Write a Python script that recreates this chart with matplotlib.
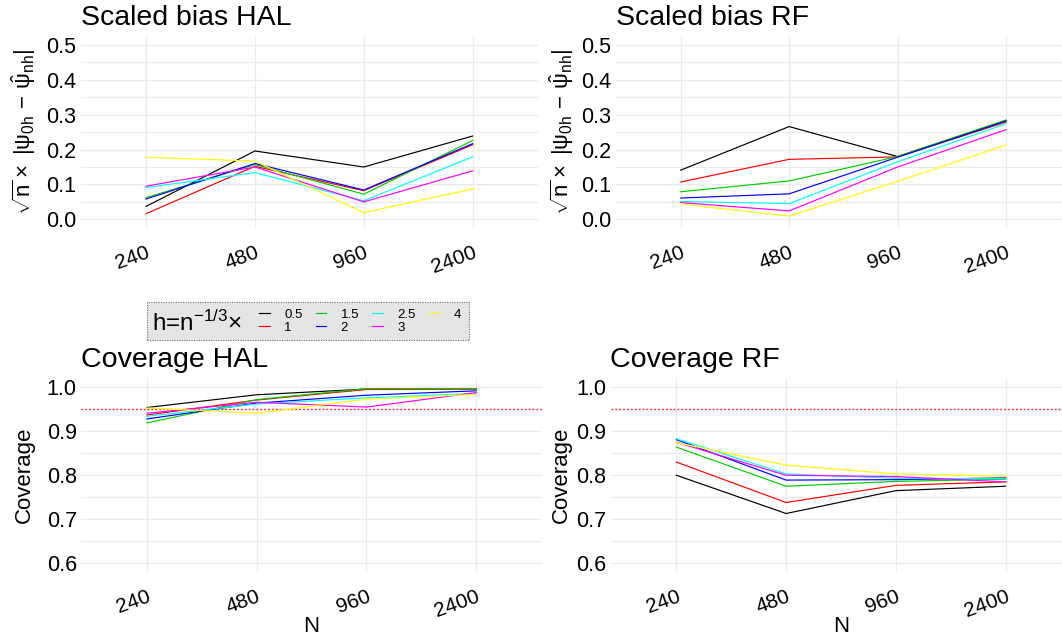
import matplotlib
matplotlib.use("Agg")
import matplotlib.pyplot as plt
from matplotlib.patches import Rectangle
import numpy as np

plt.rcParams['font.family'] = ['Liberation Sans', 'DejaVu Sans']
plt.rcParams['mathtext.fontset'] = 'custom'
plt.rcParams['mathtext.rm'] = 'Liberation Sans'
plt.rcParams['mathtext.it'] = 'Liberation Sans'
plt.rcParams['mathtext.default'] = 'regular'

# ---------------- data ----------------
N_labels = ['240', '480', '960', '2400']
h_labels = ['0.5', '1', '1.5', '2', '2.5', '3', '4']

bias_hal_05 = [0.037, 0.196, 0.150, 0.239]
bias_hal_1 = [0.016, 0.152, 0.082, 0.214]
bias_hal_15 = [0.062, 0.157, 0.072, 0.226]
bias_hal_2 = [0.058, 0.160, 0.084, 0.217]
bias_hal_25 = [0.091, 0.134, 0.053, 0.179]
bias_hal_3 = [0.095, 0.150, 0.050, 0.139]
bias_hal_4 = [0.178, 0.167, 0.019, 0.087]

bias_rf_05 = [0.141, 0.266, 0.180, 0.283]
bias_rf_1 = [0.107, 0.172, 0.179, 0.279]
bias_rf_15 = [0.079, 0.110, 0.180, 0.285]
bias_rf_2 = [0.061, 0.073, 0.178, 0.282]
bias_rf_25 = [0.051, 0.045, 0.165, 0.274]
bias_rf_3 = [0.048, 0.024, 0.150, 0.257]
bias_rf_4 = [0.044, 0.009, 0.109, 0.213]

cov_hal_05 = [0.954, 0.983, 0.996, 0.997]
cov_hal_1 = [0.937, 0.971, 0.995, 0.996]
cov_hal_15 = [0.919, 0.972, 0.997, 0.997]
cov_hal_2 = [0.928, 0.964, 0.982, 0.992]
cov_hal_25 = [0.934, 0.962, 0.976, 0.986]
cov_hal_3 = [0.941, 0.966, 0.955, 0.988]
cov_hal_4 = [0.953, 0.941, 0.973, 0.984]

cov_rf_05 = [0.800, 0.713, 0.765, 0.775]
cov_rf_1 = [0.830, 0.738, 0.777, 0.785]
cov_rf_15 = [0.864, 0.775, 0.786, 0.791]
cov_rf_2 = [0.881, 0.789, 0.790, 0.794]
cov_rf_25 = [0.883, 0.803, 0.793, 0.792]
cov_rf_3 = [0.875, 0.800, 0.797, 0.785]
cov_rf_4 = [0.874, 0.823, 0.803, 0.798]

nominal_coverage = 0.95

bias_hal = [bias_hal_05, bias_hal_1, bias_hal_15, bias_hal_2, bias_hal_25, bias_hal_3, bias_hal_4]
bias_rf = [bias_rf_05, bias_rf_1, bias_rf_15, bias_rf_2, bias_rf_25, bias_rf_3, bias_rf_4]
cov_hal = [cov_hal_05, cov_hal_1, cov_hal_15, cov_hal_2, cov_hal_25, cov_hal_3, cov_hal_4]
cov_rf = [cov_rf_05, cov_rf_1, cov_rf_15, cov_rf_2, cov_rf_25, cov_rf_3, cov_rf_4]

# ---------------- style ----------------
colors = ['black', '#FF0000', '#00CD00', '#0000FF', '#00FFFF', '#FF00FF', '#FFFF00']
W, H = 1062, 635
GRID = '#EBEBEB'

fig = plt.figure(figsize=(W / 100, H / 100), dpi=100)


def px_axes(left, right, top, bottom):
    return fig.add_axes([left / W, 1 - bottom / H, (right - left) / W, (bottom - top) / H])


ax_bh = px_axes(80.7, 538, 36.3, 228)
ax_br = px_axes(615.7, 1071, 36.3, 228)
ax_ch = px_axes(81, 542, 378.5, 572)
ax_cr = px_axes(610.5, 1071.5, 378.5, 572)

ylab_bias = r'$\sqrt{n}\times\ |\psi_{0h}\,-\,\hat{\psi}_{nh}|$'

xpos = np.arange(len(N_labels))


def style_axes(ax, series, title, ylim, major, minor, ylabel, ylab_x, xlabel=None, ref=None):
    for vals, c, lab in zip(series, colors, h_labels):
        ax.plot(xpos, vals, color=c, lw=0.85, label=lab, zorder=3, solid_joinstyle='miter')
    if ref is not None:
        ax.axhline(ref, color='#FF2020', lw=1.0, ls=(0, (1.2, 1.6)), zorder=2.5)
    ax.set_xlim(-0.6, len(N_labels) - 0.4)
    ax.set_ylim(*ylim)
    ax.set_xticks(xpos)
    ax.set_xticklabels(N_labels, rotation=20, ha='right', va='top',
                       rotation_mode='anchor', fontsize=15)
    ax.set_yticks(major)
    ax.set_yticks(minor, minor=True)
    ax.set_yticklabels(['%.1f' % v for v in major], fontsize=15.5)
    ax.tick_params(axis='both', which='both', length=0)
    ax.tick_params(axis='x', pad=11)
    ax.tick_params(axis='y', pad=3)
    ax.grid(True, which='major', color=GRID, lw=0.9, zorder=0)
    ax.grid(True, which='minor', axis='y', color=GRID, lw=0.8, zorder=0)
    ax.set_axisbelow(True)
    for s in ax.spines.values():
        s.set_visible(False)
    ax.set_title(title, loc='left', fontsize=20.5, pad=8)
    ax.set_ylabel(ylabel, fontsize=16, va='center')
    ax.yaxis.set_label_coords(ylab_x, 0.5)
    if xlabel:
        ax.set_xlabel(xlabel, fontsize=16, labelpad=-4)


bias_major = [0.0, 0.1, 0.2, 0.3, 0.4, 0.5]
bias_minor = [0.05, 0.15, 0.25, 0.35, 0.45]
cov_major = [0.6, 0.7, 0.8, 0.9, 1.0]
cov_minor = [0.65, 0.75, 0.85, 0.95]

style_axes(ax_bh, bias_hal, 'Scaled bias HAL', (-0.025, 0.525), bias_major, bias_minor,
           ylab_bias, (24 - 80.7) / (538 - 80.7))
style_axes(ax_br, bias_rf, 'Scaled bias RF', (-0.025, 0.525), bias_major, bias_minor,
           ylab_bias, (562 - 615.7) / (1071 - 615.7))
style_axes(ax_ch, cov_hal, 'Coverage HAL', (0.58, 1.02), cov_major, cov_minor,
           'Coverage', (24 - 81) / (542 - 81), xlabel='N', ref=nominal_coverage)
style_axes(ax_cr, cov_rf, 'Coverage RF', (0.58, 1.02), cov_major, cov_minor,
           'Coverage', (561 - 610.5) / (1071.5 - 610.5), xlabel='N', ref=nominal_coverage)

# ---------------- legend ----------------
box = Rectangle((147.3 / W, 1 - 340 / H), (469.3 - 147.3) / W, (340 - 302.3) / H,
                transform=fig.transFigure, facecolor='#E5E5E5', edgecolor='#707070',
                lw=0.8, ls=(0, (1, 1.2)), zorder=1)
fig.patches.append(box)
fig.text(152 / W, 1 - 331 / H, r'h=n$^{-1/3}$×', fontsize=17.5, va='baseline', ha='left')

handles, labels = ax_bh.get_legend_handles_labels()
leg = fig.legend(handles, labels, ncol=4, loc='center left',
                 bbox_to_anchor=(259 / W, 1 - 321 / H), frameon=False, fontsize=9.5,
                 handlelength=0.8, handletextpad=1.1, columnspacing=1.0,
                 labelspacing=0.05, borderpad=0, borderaxespad=0)

fig.savefig('out.png', dpi=100)
